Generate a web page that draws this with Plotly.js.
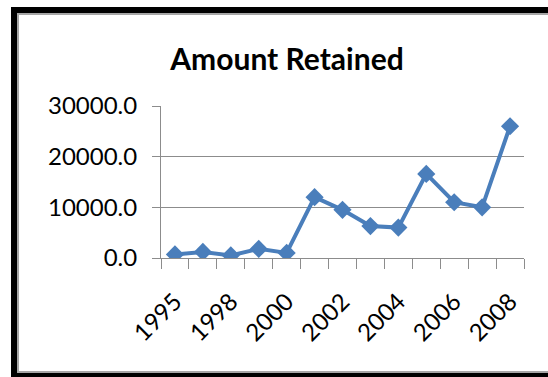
<!DOCTYPE html>
<html>
<head>
<meta charset="utf-8">
<script src="https://cdn.plot.ly/plotly-3.0.1.min.js"></script>
<style>
  html, body { margin: 0; padding: 0; background: #fff; overflow: hidden; width: 548px; height: 377px; }
  #frame { position: absolute; left: 11px; top: 7px; width: 620px; height: 372px; box-sizing: border-box;
           border: 6px solid #000; border-right: none; }
  #inner { position: absolute; left: 0; top: 0; width: 610px; height: 100%; box-sizing: border-box;
           border: 2px solid #a6a6a6; border-right: none; background: #fff; }
  #chart { position: absolute; left: 0; top: 0; width: 536px; height: 356px; }
</style>
</head>
<body>
<div id="frame"><div id="inner"><div id="chart"></div></div></div>
<script>
const categories = ['1995','1997','1998','1999','2000','2001','2002','2003','2004','2005','2006','2007','2008'];
const amountRetained = [700, 1200, 500, 1800, 1000, 12000, 9500, 6300, 6000, 16600, 11000, 10000, 26000];
const tickLabels = ['1995','','1998','','2000','','2002','','2004','','2006','','2008'];
const yTicks = [0, 10000, 20000, 30000];

const trace = {
  type: 'scatter',
  mode: 'lines+markers',
  x: categories,
  y: amountRetained,
  line: { color: '#4a7ebb', width: 4 },
  marker: { symbol: 'diamond', size: 14, color: '#4a7ebb' },
  hoverinfo: 'x+y'
};

const gridCol = '#8c8c8c';
const layout = {
  width: 536, height: 356,
  margin: { l: 142, r: 31, t: 91, b: 113 },
  paper_bgcolor: 'rgba(0,0,0,0)',
  plot_bgcolor: 'rgba(0,0,0,0)',
  showlegend: false,
  font: { family: 'Lato, sans-serif', size: 24, color: '#000' },
  title: {
    text: '<b>Amount Retained</b>',
    font: { family: 'Lato, sans-serif', size: 30, color: '#000' },
    xref: 'container', x: 0.5, xanchor: 'center',
    yref: 'container', y: 0.875, yanchor: 'middle'
  },
  xaxis: {
    type: 'category',
    categoryorder: 'array', categoryarray: categories,
    range: [-0.5, categories.length - 0.5],
    tickmode: 'array', tickvals: categories, ticktext: tickLabels,
    tickson: 'boundaries',
    ticks: 'outside', ticklen: 10, tickcolor: gridCol, tickwidth: 1,
    tickangle: -45,
    ticklabelstandoff: 19,
    showline: true, linecolor: gridCol, linewidth: 1,
    showgrid: false, zeroline: false,
    tickfont: { family: 'Lato, sans-serif', size: 24, color: '#000' }
  },
  yaxis: {
    range: [0, 30000],
    tickmode: 'array', tickvals: yTicks,
    tickformat: '.1f',
    ticks: 'outside', ticklen: 8, tickcolor: gridCol, tickwidth: 1,
    showline: true, linecolor: gridCol, linewidth: 1,
    showgrid: true, gridcolor: gridCol, gridwidth: 1,
    zeroline: false,
    ticklabelstandoff: 10,
    tickfont: { family: 'Lato, sans-serif', size: 24, color: '#000' }
  }
};

Plotly.newPlot('chart', [trace], layout, { displayModeBar: false, staticPlot: true });
</script>
</body>
</html>
